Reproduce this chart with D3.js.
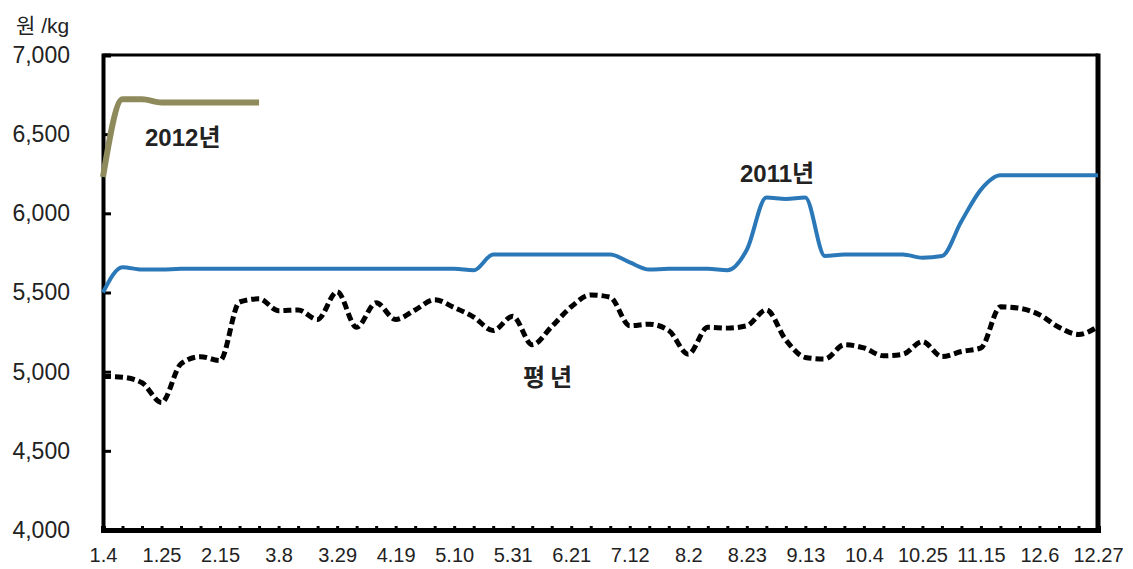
<!DOCTYPE html>
<html>
<head>
<meta charset="utf-8">
<script src="https://cdn.jsdelivr.net/npm/d3@7"></script>
<style>
  html, body { margin: 0; padding: 0; background: #fff; }
  svg text { font-family: "Liberation Sans", Arial, "Noto Sans CJK KR", sans-serif; fill: #222; }
</style>
</head>
<body>
<svg id="chart" width="1133" height="569"></svg>
<script>
// weekly dates (2011 calendar), one point per week
var weeks = ["1.4","1.11","1.18","1.25","2.1","2.8","2.15","2.22","3.1","3.8","3.15","3.22","3.29",
  "4.5","4.12","4.19","4.26","5.3","5.10","5.17","5.24","5.31","6.7","6.14","6.21","6.28",
  "7.5","7.12","7.19","7.26","8.2","8.9","8.16","8.23","8.30","9.6","9.13","9.20","9.27",
  "10.4","10.11","10.18","10.25","11.1","11.8","11.15","11.22","11.29","12.6","12.13","12.20","12.27"];

var yTicks = [4000, 4500, 5000, 5500, 6000, 6500, 7000];

// 2011
var s2011 = [5500,5660,5645,5645,5650,5650,5650,5650,5650,5650,5650,5650,5650,
  5650,5650,5650,5650,5650,5650,5640,5740,5740,5740,5740,5740,5740,
  5740,5690,5645,5650,5650,5650,5640,5770,6100,6090,6100,5730,5740,
  5740,5740,5740,5720,5730,5950,6150,6240,6240,6240,6240,6240,6240];

// 평년 (average year)
var sAvg = [4970,4965,4930,4805,5050,5095,5070,5440,5460,5385,5390,5330,5505,
  5280,5435,5330,5390,5455,5405,5345,5260,5350,5170,5285,5410,5485,
  5470,5290,5300,5260,5110,5280,5275,5290,5390,5200,5090,5080,5170,
  5150,5100,5110,5190,5095,5127,5150,5410,5400,5360,5280,5235,5285];

// 2012 (first weeks only)
var s2012 = [6230,6720,6720,6700,6700,6700,6700,6700,6700];

var svg = d3.select("#chart");
var pLeft = 103, pRight = 1098, pTop = 55, pBottom = 530;

var x = d3.scalePoint().domain(weeks).range([pLeft, pRight]);
var y = d3.scaleLinear().domain([4000, 7000]).range([pBottom, pTop]);

// frame top / right
svg.append("line").attr("x1", pLeft).attr("x2", pRight).attr("y1", pTop).attr("y2", pTop)
  .attr("stroke", "#000").attr("stroke-width", 3);
svg.append("line").attr("x1", pRight).attr("x2", pRight).attr("y1", pTop - 1.5).attr("y2", pBottom)
  .attr("stroke", "#000").attr("stroke-width", 5);

// y axis
var yAxis = svg.append("g").attr("transform", "translate(" + pLeft + ",0)")
  .call(d3.axisLeft(y).tickValues(yTicks).tickSize(-8).tickPadding(33).tickFormat(d3.format(",")));
yAxis.select(".domain").attr("stroke-width", 4);
yAxis.selectAll(".tick line").attr("stroke-width", 3);
yAxis.selectAll(".tick text").style("font-size", "23px").attr("fill", "#333");

// x axis
var xAxis = svg.append("g").attr("transform", "translate(0," + pBottom + ")")
  .call(d3.axisBottom(x).tickSize(-4).tickPadding(18)
    .tickFormat(function(d, i) { return i % 3 === 0 ? d : ""; }));
xAxis.select(".domain").attr("stroke-width", 5);
xAxis.selectAll(".tick line").attr("stroke-width", 3);
xAxis.selectAll(".tick text").style("font-size", "20px").attr("fill", "#333");

// lines
var line = d3.line()
  .x(function(d, i) { return x(weeks[i]); })
  .y(function(d) { return y(d); })
  .curve(d3.curveMonotoneX);

svg.append("path").datum(sAvg).attr("d", line)
  .attr("fill", "none").attr("stroke", "#000").attr("stroke-width", 5)
  .attr("stroke-dasharray", "8,4");

svg.append("path").datum(s2011).attr("d", line)
  .attr("fill", "none").attr("stroke", "#2a78b8").attr("stroke-width", 4);

svg.append("path").datum(s2012).attr("d", line)
  .attr("fill", "none").attr("stroke", "#8e8a5c").attr("stroke-width", 6);

// labels
svg.append("text").attr("x", 16).attr("y", 33).style("font-size", "21px").attr("fill", "#333").text("원 /kg");
svg.append("text").attr("x", 145).attr("y", 146).style("font-size", "24px").style("font-weight", "bold").text("2012년");
svg.append("text").attr("x", 740).attr("y", 182).style("font-size", "24px").style("font-weight", "bold").text("2011년");
svg.append("text").attr("x", 523).attr("y", 386).style("font-size", "24px").style("font-weight", "bold")
  .style("letter-spacing", "5px").text("평년");
</script>
</body>
</html>
